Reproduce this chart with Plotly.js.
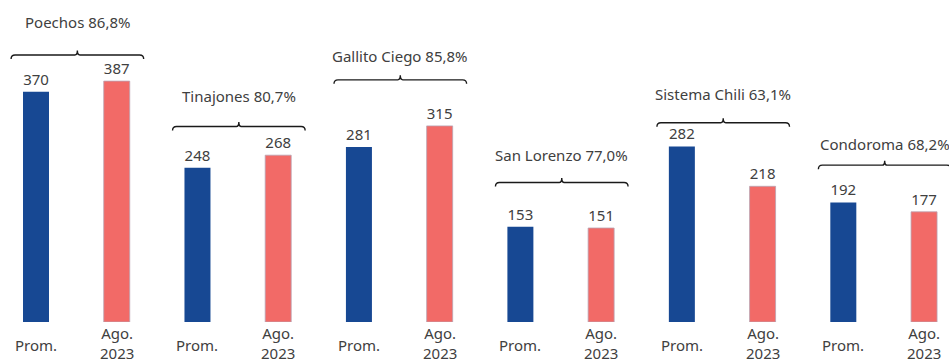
<!DOCTYPE html>
<html>
<head>
<meta charset="utf-8">
<script src="https://cdn.plot.ly/plotly-3.0.1.min.js"></script>
<style>html,body{margin:0;padding:0;background:#fff;}#chart{width:949px;height:360px;}</style>
</head>
<body>
<div id="chart"></div>
<script>
// ---- data ----
const reservoirs = ["Poechos", "Tinajones", "Gallito Ciego", "San Lorenzo", "Sistema Chili", "Condoroma"];
const pctFill = ["86,8%", "80,7%", "85,8%", "77,0%", "63,1%", "68,2%"];
const promValues = [370, 248, 281, 153, 282, 192];
const agoValues = [387, 268, 315, 151, 218, 177];
const tickLabels = ["Prom.", "Ago.<br>2023"];
// bracket and label heights (in value units)
const bracketLevel = [429, 314, 389, 224, 320, 252];
const labelLevel = [482, 363, 427, 269, 366, 286];

// ---- layout constants ----
const W = 949, H = 360, mB = 38, mT = 0;
const plotH = H - mB - mT;
const yMax = 517.3;
const pxY = yMax / plotH;          // value units per pixel
const xr0 = -0.446, xr1 = 11.309;
const pxX = (xr1 - xr0) / W;       // x units per pixel

const xProm = reservoirs.map((_, i) => 2 * i);
const xAgo = reservoirs.map((_, i) => 2 * i + 1);
const font = "Noto Sans, Open Sans, sans-serif";
const txtColor = "#404040";
const fs = 15;

const traces = [
  {type: "bar", x: xProm, y: promValues, width: 0.322, name: "Prom.",
   marker: {color: "#174893"},
   text: promValues.map(String), textposition: "outside", cliponaxis: false,
   textfont: {family: font, size: fs, color: txtColor}, hoverinfo: "none"},
  {type: "bar", x: xAgo, y: agoValues, width: 0.322, name: "Ago. 2023",
   marker: {color: "#F26A67", line: {color: "#b9a3b3", width: 0.8}},
   text: agoValues.map(String), textposition: "outside", cliponaxis: false,
   textfont: {family: font, size: fs, color: txtColor}, hoverinfo: "none"}
];

const annotations = [];
const shapes = [];
reservoirs.forEach((name, i) => {
  const xc = 2 * i + 0.5 + pxX * 1;
  annotations.push({x: xc, y: labelLevel[i], xref: "x", yref: "y",
    text: name + " " + pctFill[i], showarrow: false, yanchor: "middle", xanchor: "center",
    font: {family: font, size: fs, color: txtColor}});
  const half = 66.3 * pxX;
  const xl = xc - half, xr = xc + half, y = bracketLevel[i];
  const dn = 4 * pxY, up = 4.5 * pxY, cx = 4 * pxX, cc = 2.5 * pxX;
  const path = `M ${xl},${y - dn} Q ${xl},${y} ${xl + cx},${y} L ${xc - cc},${y} Q ${xc},${y} ${xc},${y + up} ` +
               `Q ${xc},${y} ${xc + cc},${y} L ${xr - cx},${y} Q ${xr},${y} ${xr},${y - dn}`;
  shapes.push({type: "path", xref: "x", yref: "y", path: path,
    line: {color: "#1a1a1a", width: 1.4}});
});

// category labels under bars
reservoirs.forEach((_, i) => {
  [[xProm[i], tickLabels[0], 23.2], [xAgo[i], tickLabels[1], 21.3]].forEach(([x, lab, off]) => {
    annotations.push({x: x, y: 0, xref: "x", yref: "paper", yanchor: "middle", xanchor: "center",
      yshift: -off, text: lab, showarrow: false,
      font: {family: font, size: fs, color: txtColor}});
  });
});

const layout = {
  width: W, height: H,
  margin: {l: 0, r: 0, t: mT, b: mB, pad: 0},
  paper_bgcolor: "#fff", plot_bgcolor: "#fff",
  showlegend: false,
  barmode: "overlay",
  xaxis: {range: [xr0, xr1], showgrid: false, zeroline: false, showline: false,
          showticklabels: false, ticks: "", fixedrange: true},
  yaxis: {range: [0, yMax], showgrid: false, zeroline: false, showline: false,
          showticklabels: false, ticks: "", fixedrange: true},
  annotations: annotations,
  shapes: shapes,
  font: {family: font, size: fs, color: txtColor}
};

Plotly.newPlot("chart", traces, layout, {displayModeBar: false, staticPlot: true});
</script>
</body>
</html>
